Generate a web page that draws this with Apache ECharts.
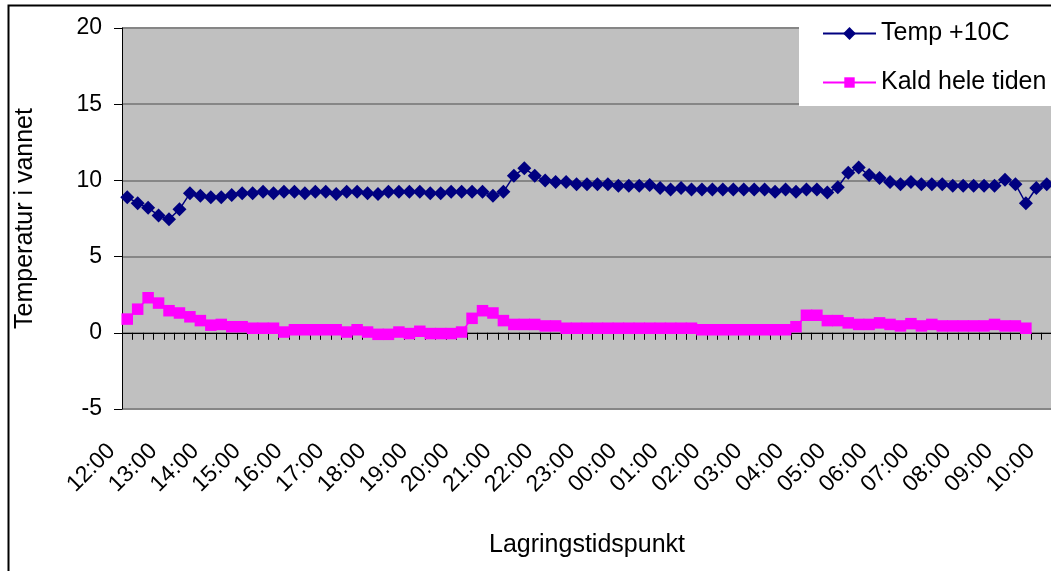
<!DOCTYPE html>
<html>
<head>
<meta charset="utf-8">
<script src="https://cdn.jsdelivr.net/npm/echarts@6/dist/echarts.min.js"></script>
<style>
  html, body { margin: 0; padding: 0; background: #fff; }
  #chart { width: 1051px; height: 571px; }
</style>
</head>
<body>
<div id="chart"></div>
<script>
// Hour labels shown along the time axis (one reading every 15 minutes)
const hourLabels = [
  '12:00', '13:00', '14:00', '15:00', '16:00', '17:00', '18:00', '19:00',
  '20:00', '21:00', '22:00', '23:00', '00:00', '01:00', '02:00', '03:00',
  '04:00', '05:00', '06:00', '07:00', '08:00', '09:00', '10:00'
];
const quarterMinutes = ['00', '15', '30', '45'];

// Water temperature, stored at +10C
const tempWarm = [
  8.9, 8.5, 8.2, 7.7, 7.45, 8.1, 9.15, 9.0, 8.9, 8.9,
  9.05, 9.15, 9.15, 9.25, 9.15, 9.25, 9.25, 9.15, 9.25, 9.25,
  9.1, 9.25, 9.25, 9.15, 9.1, 9.25, 9.25, 9.25, 9.25, 9.15,
  9.15, 9.25, 9.25, 9.25, 9.25, 9.0, 9.25, 10.3, 10.8, 10.3,
  10.0, 9.9, 9.9, 9.75, 9.75, 9.75, 9.75, 9.65, 9.65, 9.65,
  9.7, 9.5, 9.4, 9.5, 9.4, 9.4, 9.4, 9.4, 9.4, 9.4,
  9.4, 9.4, 9.25, 9.4, 9.25, 9.4, 9.4, 9.2, 9.55, 10.5,
  10.85, 10.35, 10.15, 9.9, 9.75, 9.9, 9.75, 9.75, 9.75, 9.65,
  9.65, 9.65, 9.65, 9.65, 10.05, 9.75, 8.5, 9.5, 9.75
];

// Water temperature, kept cold the whole time
const tempCold = [
  0.9, 1.55, 2.3, 1.95, 1.45, 1.3, 1.05, 0.8, 0.5, 0.55,
  0.4, 0.4, 0.3, 0.3, 0.3, 0.05, 0.2, 0.2, 0.2, 0.2,
  0.2, 0.05, 0.2, 0.05, -0.1, -0.1, 0.05, -0.05, 0.1, -0.05,
  -0.05, -0.05, 0.05, 0.95, 1.45, 1.3, 0.8, 0.55, 0.55, 0.55,
  0.45, 0.45, 0.3, 0.3, 0.3, 0.3, 0.3, 0.3, 0.3, 0.3,
  0.3, 0.3, 0.3, 0.3, 0.3, 0.2, 0.2, 0.2, 0.2, 0.2,
  0.2, 0.2, 0.2, 0.2, 0.4, 1.15, 1.15, 0.8, 0.8, 0.65,
  0.55, 0.55, 0.65, 0.55, 0.45, 0.6, 0.45, 0.55, 0.45, 0.45,
  0.45, 0.45, 0.45, 0.55, 0.45, 0.45, 0.3
];

const yMin = -5, yMax = 20, yStep = 5;

// Quarter-hour categories built from the hour labels
const categories = [];
for (let i = 0; i < tempWarm.length; i++) {
  categories.push(hourLabels[Math.floor(i / 4)].slice(0, 3) + quarterMinutes[i % 4]);
}

const FONT = 'Liberation Sans, Arial, sans-serif';
const chart = echarts.init(document.getElementById('chart'));

chart.setOption({
  animation: false,
  textStyle: { fontFamily: FONT, color: '#000' },
  grid: {
    left: 122, top: 28, right: -1, bottom: 162,
    show: true, backgroundColor: '#C0C0C0', borderWidth: 0,
    outerBoundsMode: 'none'
  },
  xAxis: [
    {
      // line through zero with a tick between every reading
      type: 'category',
      data: categories,
      position: 'bottom',
      boundaryGap: true,
      axisLine: { show: true, onZero: true, lineStyle: { color: '#000', width: 1 } },
      axisTick: { show: true, interval: 0, length: 7, lineStyle: { color: '#000' } },
      axisLabel: { show: false },
      splitLine: { show: false }
    },
    {
      // hour labels under the plot
      type: 'category',
      data: categories,
      position: 'bottom',
      boundaryGap: true,
      axisLine: { show: false, onZero: false },
      axisTick: { show: false },
      splitLine: { show: false },
      axisLabel: {
        interval: 3,
        rotate: 45,
        margin: 23,
        padding: [0, 22, 0, 0],
        fontSize: 23,
        fontFamily: FONT,
        color: '#000',
        formatter: function (v) { return v; }
      },
      name: 'Lagringstidspunkt',
      nameLocation: 'middle',
      nameGap: 124,
      nameTextStyle: { fontSize: 25, fontFamily: FONT, color: '#000' }
    }
  ],
  yAxis: {
    type: 'value',
    min: yMin, max: yMax, interval: yStep,
    axisLine: { show: true, onZero: false, lineStyle: { color: '#000', width: 1 } },
    axisTick: { show: true, length: 8, lineStyle: { color: '#000' } },
    axisLabel: { margin: 20, fontSize: 23, fontFamily: FONT, color: '#000' },
    splitLine: { show: true, lineStyle: { color: '#868686', width: 2 } },
    name: 'Temperatur i vannet',
    nameLocation: 'middle',
    nameGap: 84,
    nameTextStyle: { fontSize: 25, fontFamily: FONT, color: '#000' }
  },
  legend: [
    {
      data: ['Temp +10C'],
      left: 822, top: 21, padding: 0,
      itemWidth: 53, itemHeight: 16, itemGap: 0,
      selectedMode: false,
      textStyle: { fontSize: 25, fontFamily: FONT, color: '#000' },
      z: 20
    },
    {
      data: ['Kald hele tiden'],
      left: 822, top: 70, padding: 0,
      itemWidth: 53, itemHeight: 13, itemGap: 0,
      selectedMode: false,
      textStyle: { fontSize: 25, fontFamily: FONT, color: '#000' },
      z: 20
    }
  ],
  graphic: [
    {
      type: 'rect', z: 10, silent: true,
      shape: { x: 799, y: 7, width: 300, height: 99 },
      style: { fill: '#fff' }
    },
    {
      type: 'rect', z: 30, silent: true,
      shape: { x: 8.5, y: 5.5, width: 1200, height: 800 },
      style: { fill: 'none', stroke: '#000', lineWidth: 2 }
    }
  ],
  series: [
    {
      name: 'Temp +10C',
      type: 'line',
      data: tempWarm,
      symbol: 'diamond',
      symbolSize: 14,
      showAllSymbol: true,
      itemStyle: { color: '#000080' },
      lineStyle: { color: '#000080', width: 1.5 },
      z: 3
    },
    {
      name: 'Kald hele tiden',
      type: 'line',
      data: tempCold,
      symbol: 'rect',
      symbolSize: 11.5,
      showAllSymbol: true,
      itemStyle: { color: '#FF00FF' },
      lineStyle: { color: '#FF00FF', width: 1.5 },
      z: 4
    }
  ]
});
</script>
</body>
</html>
